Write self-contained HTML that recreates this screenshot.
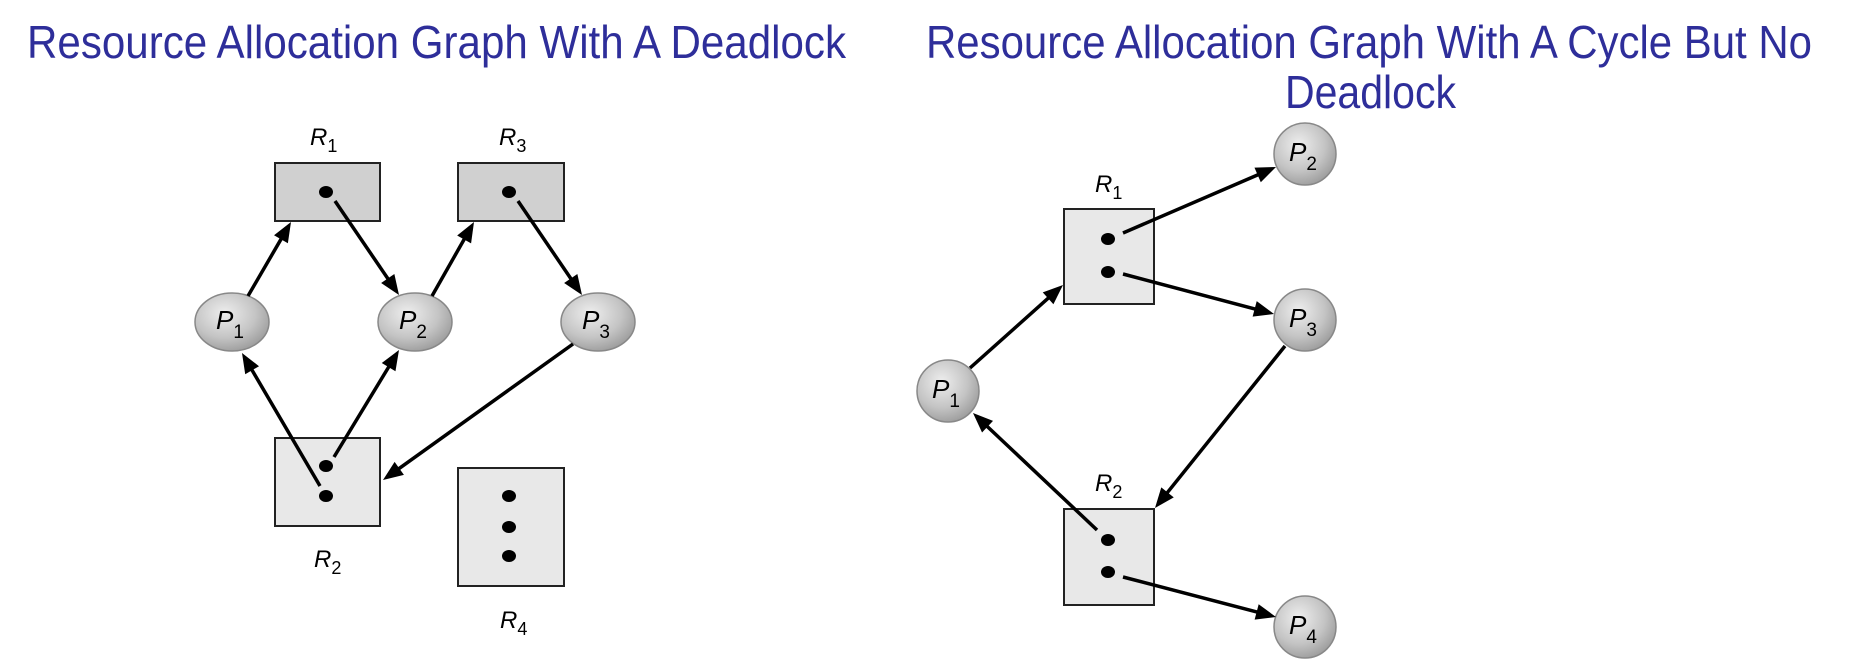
<!DOCTYPE html>
<html><head><meta charset="utf-8"><style>
html,body{margin:0;padding:0;background:#fff;}
svg{display:block;}
.t{font-family:"Liberation Sans",sans-serif;fill:#2e2e9a;font-size:46px;}
.l{font-family:"Liberation Sans",sans-serif;font-style:italic;fill:#000;}
</style></head><body>
<svg id="s" width="1853" height="661" viewBox="0 0 1853 661" xmlns="http://www.w3.org/2000/svg">
<defs>
<radialGradient id="g" cx="0.4" cy="0.35" r="0.7">
<stop offset="0" stop-color="#eeeeee"/><stop offset="0.6" stop-color="#c4c4c4"/><stop offset="1" stop-color="#9a9a9a"/>
</radialGradient>
</defs>
<text class="t" x="27" y="58" textLength="819" lengthAdjust="spacingAndGlyphs">Resource Allocation Graph With A Deadlock</text>
<text class="t" x="926" y="58" textLength="886" lengthAdjust="spacingAndGlyphs">Resource Allocation Graph With A Cycle But No</text>
<text class="t" x="1285" y="108" textLength="171" lengthAdjust="spacingAndGlyphs">Deadlock</text>
<g id="marks"></g>
</svg>
<script>
const ns="http://www.w3.org/2000/svg";
const g=document.getElementById('marks');
function mk(tag,attrs){const e=document.createElementNS(ns,tag);for(const k in attrs)e.setAttribute(k,attrs[k]);g.appendChild(e);return e;}
const boxes=[
["R1-left",275,380,163,221,"#d0d0d0",[[326,192]]],
["R3-left",458,564,163,221,"#d0d0d0",[[509,192]]],
["R2-left",275,380,438,526,"#e8e8e8",[[326,466],[326,496]]],
["R4-left",458,564,468,586,"#e8e8e8",[[509,496],[509,527],[509,556]]],
["R1-right",1064,1154,209,304,"#e8e8e8",[[1108,239],[1108,272]]],
["R2-right",1064,1154,509,605,"#e8e8e8",[[1108,540],[1108,572]]]
];
const procs=[
["P1-left",232,322,37,29,"1"],["P2-left",415,322,37,29,"2"],["P3-left",598,322,37,29,"3"],
["P1-right",948,391,31,31,"1"],["P2-right",1305,154,31,31,"2"],["P3-right",1305,320,31,31,"3"],["P4-right",1305,627,31,31,"4"]
];
const rlabels=[["1",324,145],["3",513,145],["2",328,567],["4",514,628],["1",1109,192],["2",1109,491]];
const edges=[
[248,296,291,222],[335,201,399,295],[432,296,474,222],[518,201,582,295],
[320,486,242,353],[334,457,399,350],[573,344,383,480],
[970,368,1063,285],[1123,233,1276,167],[1123,274,1274,314],[1285,346,1155,508],
[1097,530,973,413],[1123,577,1276,617]
];
boxes.forEach(b=>{
 const r=mk('rect',{x:b[1],y:b[3],width:b[2]-b[1],height:b[4]-b[3],fill:b[5],stroke:'#222','stroke-width':2});
 
 
 b[6].forEach(d=>{const c=mk('ellipse',{cx:d[0],cy:d[1],rx:7,ry:6,fill:'#000'});
  
  });
});
procs.forEach(p=>{
 const e=mk('ellipse',{cx:p[1],cy:p[2],rx:p[3],ry:p[4],fill:'url(#g)',stroke:'#888','stroke-width':1.5});
 
 
 const t=mk('text',{class:'l',x:p[1]-16,y:p[2]+7,'font-size':26});
 
 
 t.innerHTML='P<tspan font-style="normal" font-size="19" dy="9">'+p[5]+'</tspan>';
});
rlabels.forEach(l=>{
 const t=mk('text',{class:'l',x:l[1]-14,y:l[2],'font-size':24});
 
 
 t.innerHTML='R<tspan font-style="normal" font-size="18" dy="7">'+l[0]+'</tspan>';
});
edges.forEach(e=>{
 const [x1,y1,x2,y2]=e;const dx=x2-x1,dy=y2-y1,L=Math.hypot(dx,dy),ux=dx/L,uy=dy/L;
 const hl=20,hw=8;const bx=x2-ux*hl,by=y2-uy*hl;
 const ln=mk('line',{x1:x1,y1:y1,x2:bx+ux*2,y2:by+uy*2,stroke:'#000','stroke-width':3.5});
 
 
 const h=mk('polygon',{points:`${x2},${y2} ${bx-uy*hw},${by+ux*hw} ${bx+uy*hw},${by-ux*hw}`,fill:'#000'});
 
 
});
</script>
</body></html>
